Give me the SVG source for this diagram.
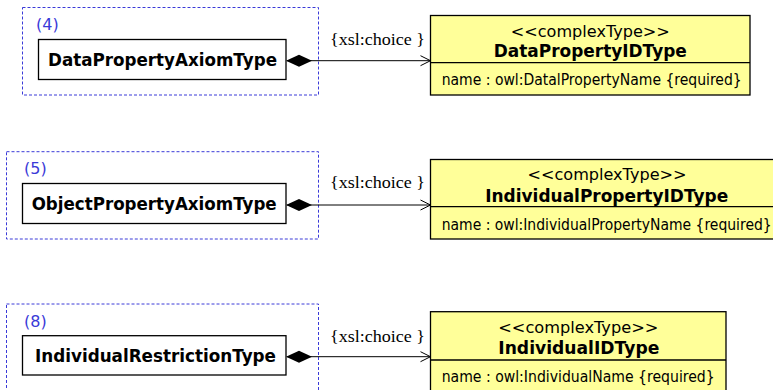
<svg xmlns="http://www.w3.org/2000/svg" width="773" height="390" viewBox="0 0 773 390">
<style>
.frame{fill:none;stroke:#3a3ad8;stroke-width:1;stroke-dasharray:3,2}
.num{font-family:"DejaVu Sans",Verdana,sans-serif;font-size:16px;fill:#3a3ad8}
.cls{fill:#fff;stroke:#000;stroke-width:1.3}
.clsname{font-family:"DejaVu Sans",Verdana,sans-serif;font-weight:bold;font-size:17px;fill:#000}
.type{fill:#ffff99;stroke:#000;stroke-width:1.3}
.div{stroke:#000;stroke-width:1.3}
.stereo{font-family:"DejaVu Sans",Tahoma,sans-serif;font-size:16px;fill:#000;text-anchor:middle}
.tname{font-family:"DejaVu Sans",Verdana,sans-serif;font-weight:bold;font-size:17px;fill:#000;text-anchor:middle}
.attr{font-family:"DejaVu Sans Condensed","DejaVu Sans",Tahoma,sans-serif;font-size:15.5px;fill:#000}
.conn{stroke:#000;stroke-width:1;fill:none}
.lbl{font-family:"Liberation Serif","Times New Roman",serif;font-size:17px;fill:#000}
</style>
<defs>
<marker id="open" markerWidth="12" markerHeight="12" refX="11" refY="6" orient="auto" markerUnits="userSpaceOnUse">
<path d="M1,1 L11,6 L1,11" fill="none" stroke="#000" stroke-width="1"/>
</marker>
<marker id="diamond" markerWidth="28" markerHeight="14" refX="1" refY="7" orient="auto" markerUnits="userSpaceOnUse">
<path d="M0,7 L13,1 L26,7 L13,13 Z" fill="#000"/>
</marker>
</defs>

<g id="group4">
<rect class="frame" x="22.5" y="7.5" width="296" height="87.5"/>
<text class="num" x="36" y="30">(4)</text>
</g>
<g id="DataPropertyAxiomType">
<rect class="cls" x="38.5" y="39.5" width="247.5" height="40"/>
<text class="clsname" x="48" y="65.5" textLength="229" lengthAdjust="spacingAndGlyphs">DataPropertyAxiomType</text>
</g>
<g id="DataPropertyIDType">
<rect class="type" x="430.5" y="15.5" width="319.5" height="79.5"/>
<line class="div" x1="430.5" y1="62.7" x2="750" y2="62.7"/>
<text class="stereo" x="590.3" y="36.7" textLength="159" lengthAdjust="spacingAndGlyphs">&lt;&lt;complexType&gt;&gt;</text>
<text class="tname" x="590.3" y="57" textLength="193" lengthAdjust="spacingAndGlyphs">DataPropertyIDType</text>
<text class="attr" x="441.7" y="85" textLength="300" lengthAdjust="spacingAndGlyphs">name : owl:DatalPropertyName {required}</text>
</g>

<g id="group5">
<rect class="frame" x="6.5" y="151.7" width="312" height="87.3"/>
<text class="num" x="24" y="174">(5)</text>
</g>
<g id="ObjectPropertyAxiomType">
<rect class="cls" x="22.5" y="183.5" width="263.5" height="40"/>
<text class="clsname" x="31.7" y="209.5" textLength="245" lengthAdjust="spacingAndGlyphs">ObjectPropertyAxiomType</text>
</g>
<g id="IndividualPropertyIDType">
<rect class="type" x="430.5" y="159.5" width="352.5" height="79.5"/>
<line class="div" x1="430.5" y1="206.7" x2="783" y2="206.7"/>
<text class="stereo" x="607" y="180" textLength="159" lengthAdjust="spacingAndGlyphs">&lt;&lt;complexType&gt;&gt;</text>
<text class="tname" x="606.7" y="202" textLength="243" lengthAdjust="spacingAndGlyphs">IndividualPropertyIDType</text>
<text class="attr" x="441.7" y="230" textLength="330" lengthAdjust="spacingAndGlyphs">name : owl:IndividualPropertyName {required}</text>
</g>

<g id="group8">
<rect class="frame" x="6.5" y="304" width="312" height="100"/>
<text class="num" x="24" y="327">(8)</text>
</g>
<g id="IndividualRestrictionType">
<rect class="cls" x="22.5" y="335.7" width="263.5" height="39.3"/>
<text class="clsname" x="35" y="362" textLength="241" lengthAdjust="spacingAndGlyphs">IndividualRestrictionType</text>
</g>
<g id="IndividualIDType">
<rect class="type" x="430.5" y="311.7" width="295.5" height="100"/>
<line class="div" x1="430.5" y1="360" x2="726" y2="360"/>
<text class="stereo" x="578.3" y="333.3" textLength="160" lengthAdjust="spacingAndGlyphs">&lt;&lt;complexType&gt;&gt;</text>
<text class="tname" x="578.8" y="353.5" textLength="161" lengthAdjust="spacingAndGlyphs">IndividualIDType</text>
<text class="attr" x="441.7" y="381.7" textLength="273" lengthAdjust="spacingAndGlyphs">name : owl:IndividualName {required}</text>
</g>

<g id="connectors">
<line class="conn" x1="287" y1="60.7" x2="430.5" y2="60.7" marker-start="url(#diamond)" marker-end="url(#open)"/>
<text class="lbl" x="330" y="45" textLength="95" lengthAdjust="spacingAndGlyphs">{xsl:choice }</text>
<line class="conn" x1="287" y1="205" x2="430.5" y2="205" marker-start="url(#diamond)" marker-end="url(#open)"/>
<text class="lbl" x="330" y="188.3" textLength="95" lengthAdjust="spacingAndGlyphs">{xsl:choice }</text>
<line class="conn" x1="287" y1="356.7" x2="430.5" y2="356.7" marker-start="url(#diamond)" marker-end="url(#open)"/>
<text class="lbl" x="330" y="341.7" textLength="95" lengthAdjust="spacingAndGlyphs">{xsl:choice }</text>
</g>
</svg>
